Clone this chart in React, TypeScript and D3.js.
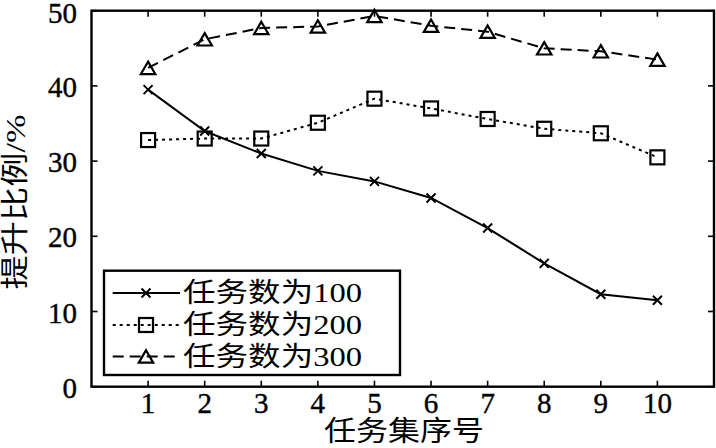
import React from 'react';
import * as d3 from 'd3';

// 任务集序号
const taskSets = [1, 2, 3, 4, 5, 6, 7, 8, 9, 10];
const xTicks = [1, 2, 3, 4, 5, 6, 7, 8, 9, 10];
const yTicks = [0, 10, 20, 30, 40, 50];

// 提升比例 (%)
const ratio100 = [39.5, 34.0, 31.0, 28.7, 27.3, 25.1, 21.1, 16.4, 12.3, 11.5];
const ratio200 = [32.8, 33.0, 33.0, 35.1, 38.3, 37.0, 35.6, 34.3, 33.7, 30.5];
const ratio300 = [42.4, 46.2, 47.7, 47.9, 49.3, 48.0, 47.2, 45.0, 44.6, 43.5];

const seriesNames = ['任务数为100', '任务数为200', '任务数为300'];

const W = 716, H = 448;
const left = 91.5, right = 714, top = 10.7, bottom = 386.7;
const serif = '"Liberation Serif", "Noto Sans CJK SC", serif';

const x = d3.scaleLinear().domain([0, 11]).range([left, right]);
const y = d3.scaleLinear().domain([0, 50]).range([bottom, top]);

const line = d3.line<[number, number]>()
    .x(d => x(d[0]))
    .y(d => y(d[1]));

const series = [
    { name: seriesNames[0], values: ratio100, dash: undefined, marker: 'x' },
    { name: seriesNames[1], values: ratio200, dash: '3,4', marker: 'square' },
    { name: seriesNames[2], values: ratio300, dash: '11,6', marker: 'triangle' },
];

function Marker({ type, cx, cy }: { type: string; cx: number; cy: number }) {
    if (type === 'x') {
        const s = 4.5;
        return (
            <path d={`M${cx - s},${cy - s}L${cx + s},${cy + s}M${cx - s},${cy + s}L${cx + s},${cy - s}`}
                stroke="#000" strokeWidth={2} fill="none" />
        );
    }
    if (type === 'square') {
        const s = 7;
        return <rect x={cx - s} y={cy - s} width={2 * s} height={2 * s} stroke="#000" strokeWidth={2.2} fill="none" />;
    }
    const w = 7.2, h = 6.2;
    return (
        <path d={`M${cx},${cy - h}L${cx + w},${cy + h}L${cx - w},${cy + h}Z`}
            stroke="#000" strokeWidth={2.2} fill="none" strokeLinejoin="miter" />
    );
}

export default function App() {
    const legendRows = [293, 325, 356.5];
    return (
        <svg width={W} height={H} style={{ position: 'absolute', left: 0, top: 0, background: '#fff' }}>
            <rect x={0} y={0} width={W} height={H} fill="#fff" />

            {/* ticks, mirrored and pointing inward */}
            {yTicks.map(t => (
                <g key={'y' + t}>
                    <line x1={left} x2={left + 6} y1={y(t)} y2={y(t)} stroke="#000" strokeWidth={1.6} />
                    <line x1={right} x2={right - 6} y1={y(t)} y2={y(t)} stroke="#000" strokeWidth={1.6} />
                    <text x={77} y={Math.max(y(t) + 1, 13)} textAnchor="end" dominantBaseline="central"
                        fontFamily={serif} fontSize={29} fill="#000" stroke="#000" strokeWidth={0.4}>{t}</text>
                </g>
            ))}
            {xTicks.map(t => (
                <g key={'x' + t}>
                    <line x1={x(t)} x2={x(t)} y1={bottom} y2={bottom - 6} stroke="#000" strokeWidth={1.6} />
                    <line x1={x(t)} x2={x(t)} y1={top} y2={top + 6} stroke="#000" strokeWidth={1.6} />
                    <text x={x(t)} y={413} textAnchor="middle"
                        fontFamily={serif} fontSize={29} fill="#000" stroke="#000" strokeWidth={0.4}>{t}</text>
                </g>
            ))}

            {/* series */}
            {series.map(s => {
                const pts = taskSets.map((k, i) => [k, s.values[i]] as [number, number]);
                return (
                    <g key={s.name}>
                        <path d={line(pts) || ''} fill="none" stroke="#000" strokeWidth={2}
                            strokeDasharray={s.dash} />
                        {pts.map((p, i) => <Marker key={i} type={s.marker} cx={x(p[0])} cy={y(p[1])} />)}
                    </g>
                );
            })}

            {/* frame */}
            <rect x={left} y={top} width={right - left} height={bottom - top} fill="none" stroke="#000" strokeWidth={2.4} />

            {/* legend */}
            <rect x={104} y={270.7} width={296} height={104.3} fill="#fff" stroke="#000" strokeWidth={2.4} />
            {series.map((s, i) => (
                <g key={'lg' + i}>
                    <line x1={112.7} x2={180} y1={legendRows[i]} y2={legendRows[i]} stroke="#000" strokeWidth={2}
                        strokeDasharray={s.dash} />
                    <Marker type={s.marker} cx={146} cy={legendRows[i]} />
                    <text x={183} y={legendRows[i]} dominantBaseline="central" fontFamily={serif} fontSize={27}
                        textLength={179} lengthAdjust="spacingAndGlyphs" fill="#000">{s.name}</text>
                </g>
            ))}

            {/* axis titles */}
            <text x={404} y={431.5} textAnchor="middle" dominantBaseline="central" fontFamily={serif} fontSize={28}
                textLength={160} lengthAdjust="spacingAndGlyphs" fill="#000">任务集序号</text>
            <text transform="translate(15,202) rotate(-90)" textAnchor="middle" dominantBaseline="central"
                fontFamily={serif} fontSize={28} textLength={175} lengthAdjust="spacingAndGlyphs" fill="#000">提升比例/%</text>
        </svg>
    );
}
